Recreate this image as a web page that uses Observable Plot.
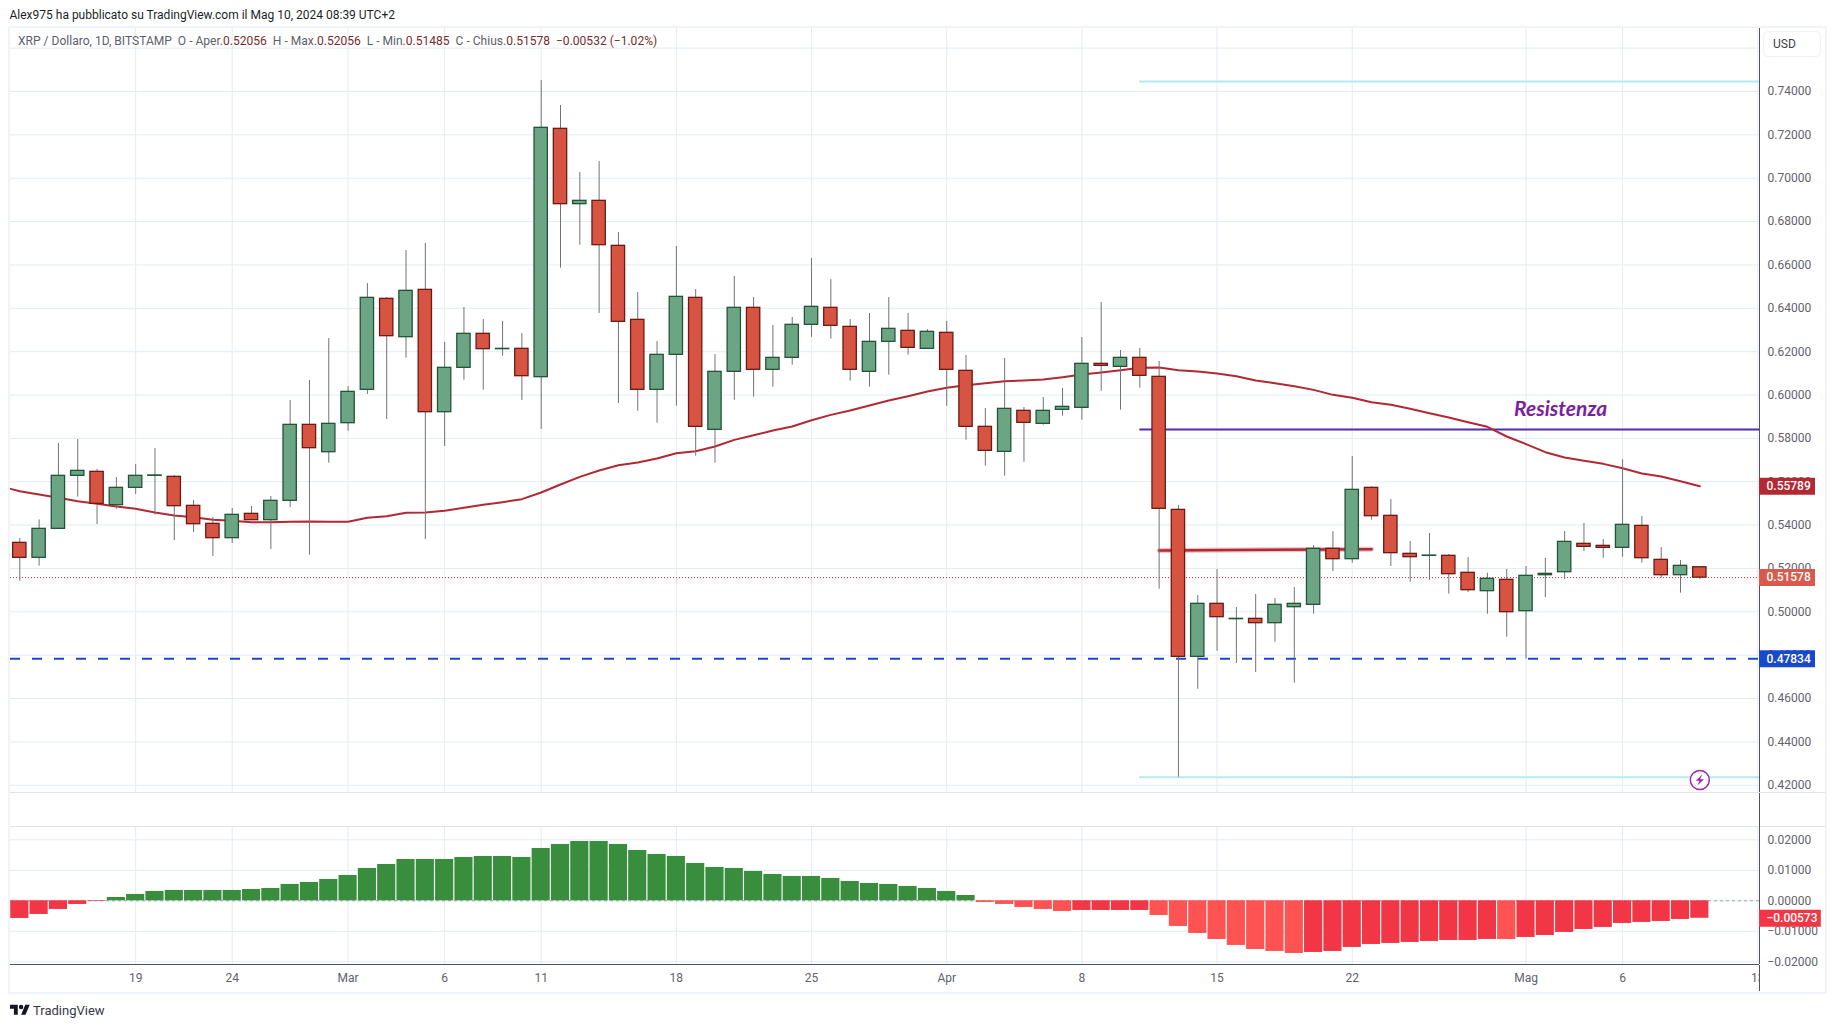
<!DOCTYPE html>
<html lang="it">
<head>
<meta charset="utf-8">
<title>XRP / Dollaro</title>
<script src="https://cdn.jsdelivr.net/npm/d3@7"></script>
<script src="https://cdn.jsdelivr.net/npm/@observablehq/plot@0.6"></script>
<style>
  html,body{margin:0;padding:0;background:#fff;overflow:hidden}
  #page{position:relative;width:1835px;height:1027px;font-family:Roboto,"Liberation Sans",sans-serif}
  #title{height:27px;box-sizing:border-box;padding:8px 0 0 9.5px;font-size:12px;line-height:14px;color:#1c1f29;white-space:nowrap}
  #frame{position:absolute;left:8px;top:26px;width:1815px;height:964px;border:2px solid #f0f3fa;pointer-events:none}
  #legend{position:absolute;left:18px;top:34px;font-size:12.05px;line-height:15px;color:#5d606b;white-space:pre;background:transparent}
  #legend b{font-weight:400;color:#7a2c2c}
  #usd{position:absolute;left:1763px;top:31px;width:58px;height:26px;box-sizing:border-box;border:1px solid #f0f3fa;border-radius:5px;font-size:12px;line-height:24px;padding-left:9px;color:#3c3f4a;background:#fff}
  #caption{position:absolute;left:10px;top:1002px;display:flex;align-items:center;font-size:13px;color:#363a45;height:16px}
  #caption svg{width:20px;height:15.6px;margin-right:3px;display:block}
  svg.plot, figure svg{display:block}
</style>
</head>
<body>
<div id="page">
  <div id="title">Alex975 ha pubblicato su TradingView.com il Mag 10, 2024 08:39 UTC+2</div>
  <div id="charts"></div>
  <div id="frame"></div>
  <div id="legend">XRP / Dollaro, 1D, BITSTAMP  O - Aper.<b>0.52056</b>  H - Max.<b>0.52056</b>  L - Min.<b>0.51485</b>  C - Chius.<b>0.51578</b>  <b>−0.00532 (−1.02%)</b></div>
  <div id="usd">USD</div>
  <div id="caption"><svg viewBox="0 3 36 20"><path fill="#131722" d="M14 22H7V11H0V4h14v18zM28 22h-8l7.5-18h8L28 22z"/><circle fill="#131722" cx="20" cy="8" r="4"/></svg>TradingView</div>
</div>
<script>
// ---------- data (daily, from 13 Feb 2024) ----------
const opens = [.53181,.52489,.53827,.56272,.56456,.54919,.55718,.56272,.56226,.54888,.54058,.53397,.54519,.54227,.55119,.58624,.57363,.58701,.60239,.64436,.62668,.64851,.59208,.61254,.62822,.62115,.62130,.60823,.72278,.68803,.68957,.66881,.63467,.60238,.61853,.64482,.58393,.61069,.64021,.61161,.61714,.63237,.64021,.63144,.61069,.62452,.62960,.62130,.62868,.61115,.58532,.57379,.59270,.58670,.59316,.59408,.61438,.61299,.61714,.60838,.54703,.47923,.50368,.49660,.49676,.49476,.50214,.50322,.52905,.52428,.55718,.54427,.52674,.52580,.52582,.51798,.50952,.51475,.50029,.51690,.51828,.53135,.53043,.52951,.53965,.52397,.51690,.52056];
const highs = [.53381,.54242,.57763,.57948,.56564,.56195,.56794,.57532,.56287,.55134,.54350,.54765,.54857,.55318,.59746,.60669,.62607,.60392,.65144,.64498,.66666,.66989,.62422,.64037,.63483,.63391,.62837,.74507,.73354,.70264,.70771,.67496,.64728,.62468,.66850,.64866,.61868,.65466,.64497,.63206,.63575,.66296,.65328,.63483,.63759,.64497,.63759,.63021,.63390,.61822,.59377,.61684,.59424,.59885,.60300,.62652,.64267,.62053,.62145,.61545,.54903,.50752,.51951,.50199,.50798,.50614,.51121,.53058,.53704,.57163,.55764,.55180,.53243,.53612,.52643,.52505,.51782,.51951,.52090,.52459,.53704,.54073,.53335,.57010,.54396,.52966,.52367,.52056];
const lows = [.51413,.52105,.53827,.55288,.54027,.54734,.55411,.54457,.53289,.53658,.52551,.53151,.54227,.52874,.54811,.52612,.56856,.58332,.60024,.58870,.61700,.53335,.57625,.60685,.60224,.61792,.59746,.58409,.65851,.66912,.63760,.59608,.59254,.58701,.59485,.57179,.56856,.59762,.59900,.60361,.61376,.62668,.62576,.60638,.60361,.60915,.61838,.62130,.59485,.57917,.56718,.56256,.56902,.58609,.59024,.58839,.60177,.59301,.60315,.51044,.42373,.46432,.48184,.47616,.47200,.48600,.46708,.49891,.51859,.52243,.54227,.52090,.51367,.51459,.50814,.50890,.49891,.48830,.47815,.50660,.51490,.52782,.52474,.52520,.52243,.51552,.50860,.51485];
const closes = [.52489,.53827,.56272,.56502,.54980,.55718,.56272,.56290,.54873,.54042,.53397,.54473,.54227,.55119,.58624,.57548,.58670,.60146,.64482,.62714,.64805,.59208,.61254,.62822,.62115,.62130,.60869,.72324,.68803,.68957,.66912,.63375,.60238,.61853,.64528,.58532,.61069,.64021,.61161,.61714,.63237,.64067,.63191,.61161,.62452,.63052,.62176,.62914,.61161,.58532,.57425,.59362,.58716,.59270,.59454,.61438,.61346,.61714,.60884,.54750,.47923,.50368,.49753,.49676,.49476,.50322,.50368,.52905,.52428,.55626,.54411,.52705,.52520,.52595,.51736,.50998,.51521,.49983,.51659,.51751,.53227,.52997,.52951,.54012,.52474,.51690,.52121,.51578];
const smaValues = [.55565,.55411,.55257,.55103,.54980,.54857,.54750,.54581,.54442,.54365,.54242,.54196,.54135,.54135,.54150,.54165,.54150,.54150,.54335,.54411,.54565,.54581,.54657,.54796,.54934,.55057,.55196,.55503,.55872,.56226,.56518,.56764,.56887,.57071,.57317,.57409,.57625,.57932,.58147,.58363,.58547,.58839,.59085,.59285,.59516,.59746,.59946,.60162,.60331,.60454,.60546,.60638,.60669,.60715,.60823,.60946,.61038,.61146,.61253,.61269,.61146,.61084,.60992,.60869,.60669,.60546,.60408,.60238,.60008,.59870,.59670,.59547,.59362,.59162,.58962,.58747,.58532,.58086,.57732,.57363,.57117,.56964,.56825,.56625,.56379,.56241,.56026,.55789];
const histValues = [-.00579,-.00448,-.00284,-.00120,-.00022,.00109,.00208,.00306,.00339,.00339,.00339,.00339,.00372,.00404,.00536,.00601,.00699,.00831,.01060,.01191,.01355,.01355,.01355,.01421,.01454,.01454,.01421,.01716,.01847,.01945,.01945,.01847,.01650,.01519,.01454,.01224,.01093,.01060,.00962,.00863,.00798,.00798,.00732,.00634,.00568,.00536,.00470,.00404,.00306,.00175,-.00055,-.00120,-.00219,-.00284,-.00350,-.00317,-.00317,-.00317,-.00317,-.00481,-.00842,-.01071,-.01268,-.01464,-.01596,-.01661,-.01727,-.01694,-.01661,-.01530,-.01432,-.01399,-.01366,-.01333,-.01301,-.01301,-.01268,-.01270,-.01202,-.01137,-.01038,-.00940,-.00874,-.00743,-.00710,-.00678,-.00612,-.00573];

const tickDates = ["2024-02-19","2024-02-24","2024-03-01","2024-03-06","2024-03-11","2024-03-18","2024-03-25","2024-04-01","2024-04-08","2024-04-15","2024-04-22","2024-05-01","2024-05-06","2024-05-13"];
const tickLabels = ["19","24","Mar","6","11","18","25","Apr","8","15","22","Mag","6","13"];
const priceGrid = [.42,.44,.46,.48,.50,.52,.54,.56,.58,.60,.62,.64,.66,.68,.70,.72,.74,.76];
const priceLabels = [.42,.44,.46,.48,.50,.52,.54,.56,.58,.60,.62,.64,.66,.68,.70,.72,.74];
const histTicks = [.02,.01,0,-.01,-.02];

const resistanceLevel = .58409, highLevel = .74461, lowLevel = .42373, supportLevel = .47834, lastClose = .51578, lastSma = .55789, lastHist = -.00573;
const levelStart = "2024-04-11";
const trendDates = ["2024-04-12","2024-04-23"], trendValues = [.52828,.52890];
const smaLead = {date: new Date(Date.UTC(2024,1,12,12,26)), value: .55672};
const noteDate = "2024-05-02T19:00Z", notePrice = .59332, noteText = "Resistenza";
const boltDate = "2024-05-10", boltPrice = .42243;

// ---------- tables ----------
const DAY = 864e5, day0 = Date.UTC(2024,1,13);
const dateAt = i => new Date(day0 + i*DAY);
const shift = (d, days) => new Date(+d + days*DAY);
const candles = opens.map((o,i) => ({date:dateAt(i), open:o, high:highs[i], low:lows[i], close:closes[i]}));
const sma = [smaLead].concat(smaValues.map((v,i)=>({date:dateAt(i), value:v})));
const hist = histValues.map((v,i)=>({date:dateAt(i), value:v, kind: v>=0 ? "up" : (i>0 && v<histValues[i-1] ? "falling" : "rising")}));
const ticks = tickDates.map((d,i)=>({date:new Date(d), label:tickLabels[i]}));
const trend = trendDates.map((d,i)=>({date:new Date(d), value:trendValues[i]}));

// ---------- shared layout ----------
const xStart = new Date(Date.UTC(2024,1,12,12,26)), xEnd = new Date(Date.UTC(2024,4,13,2,10));
const xFrame = new Date(Date.UTC(2024,4,16,12,15)), xBox = new Date(Date.UTC(2024,4,15,23,45)), xBoxNeg = new Date(Date.UTC(2024,4,16,7,0));
const fmt = v => (v<0?"\u2212":"") + Math.abs(v).toFixed(5);
const FONT = 'Roboto, "Liberation Sans", sans-serif';
const base = {width:1835, marginLeft:10, marginRight:76, marginTop:0,
  x:{type:"utc", domain:[xStart,xEnd], axis:null},
  style:{background:"transparent", fontFamily:FONT, fontSize:"12px", color:"#5f626d", overflow:"visible"}};
const GRID = "#e3ecf3", SEP = "#e0e3eb", AXIS = "#50535e";
const HALF = 0.345;
const boltSymbol = {draw(c, size){
  const s = Math.sqrt(size/Math.PI);
  c.moveTo(.45*s,-s); c.lineTo(-.75*s,.15*s); c.lineTo(-.05*s,.15*s);
  c.lineTo(-.45*s,s); c.lineTo(.75*s,-.15*s); c.lineTo(.05*s,-.15*s); c.closePath();
}};

const boxes = (rows) => rows.flatMap(r => [
  Plot.ruleY([r.value],{x1:xEnd, x2:r.value<0?xBoxNeg:xBox, stroke:r.color, strokeWidth:17}),
  Plot.text([r.value],{x:xEnd, y:d=>d, text:fmt, dx:7, textAnchor:"start", fill:"#fff", fontWeight:500, fontSize:12})
]);

const priceChart = Plot.plot({...base, height:766, marginBottom:1,
  y:{domain:[.41666,.76952], axis:null},
  marks:[
    Plot.ruleY(priceGrid,{stroke:GRID}),
    Plot.ruleX(ticks,{x:"date", stroke:GRID}),
    Plot.ruleY([.41666],{x1:xStart, x2:xFrame, stroke:SEP}),
    Plot.ruleY([highLevel,lowLevel],{x1:new Date(levelStart), x2:xEnd, stroke:"#b2ebf2", strokeWidth:2}),
    Plot.ruleY([resistanceLevel],{x1:new Date(levelStart), x2:xEnd, stroke:"#512da8", strokeWidth:2}),
    Plot.ruleY([supportLevel],{x1:xStart, x2:xEnd, stroke:"#1848cc", strokeWidth:2, strokeDasharray:"10 12"}),
    Plot.ruleY([lastClose],{x1:xStart, x2:xEnd, stroke:"#d32f2f", strokeWidth:1, strokeDasharray:"1 2"}),
    Plot.line(trend,{x:"date", y:"value", stroke:"#b22833", strokeWidth:5, strokeOpacity:.28}),
    Plot.line(trend,{x:"date", y:"value", stroke:"#b22833", strokeWidth:2.5}),
    Plot.line(sma,{x:"date", y:"value", stroke:"#b22833", strokeWidth:2, curve:"linear", clip:true}),
    Plot.ruleX(candles,{x:"date", y1:"low", y2:"high", stroke:"#737375", strokeWidth:1}),
    Plot.rect(candles.filter(d=>d.close>=d.open),{x1:d=>shift(d.date,-HALF), x2:d=>shift(d.date,HALF), y1:"open", y2:"close", fill:"#6ba583", stroke:"#225437", strokeWidth:1.3}),
    Plot.rect(candles.filter(d=>d.close<d.open),{x1:d=>shift(d.date,-HALF), x2:d=>shift(d.date,HALF), y1:"open", y2:"close", fill:"#d75442", stroke:"#6b1a14", strokeWidth:1.3}),
    Plot.text([noteText],{x:new Date(noteDate), y:notePrice, text:d=>d, fill:"#7b1fa2", fontSize:21, fontWeight:700, fontStyle:"italic", fontFamily:"Lato, Roboto, sans-serif"}),
    Plot.dot([boltPrice],{x:new Date(boltDate), y:d=>d, r:9.5, fill:"#fff", stroke:"#9c27b0", strokeWidth:1.5}),
    Plot.dot([boltPrice],{x:new Date(boltDate), y:d=>d, r:5.5, symbol:boltSymbol, fill:"#9c27b0", stroke:"none"}),
    Plot.ruleX([xEnd],{stroke:AXIS}),
    Plot.axisY(priceLabels,{anchor:"right", tickSize:0, tickPadding:8, tickFormat:fmt, label:null}),
    ...boxes([{value:lastSma,color:"#b22833"},{value:lastClose,color:"#d9594c"},{value:supportLevel,color:"#1848cc"}])
  ]
});

const histChart = Plot.plot({...base, height:172, marginBottom:1,
  y:{domain:[-.02089,.03518], axis:null},
  marks:[
    Plot.ruleY(histTicks,{stroke:GRID}),
    Plot.ruleX(ticks,{x:"date", y1:-.02089, y2:.02436, stroke:GRID}),
    Plot.ruleY([.02436],{x1:xStart, x2:xFrame, stroke:SEP}),
    Plot.ruleY([0],{x1:xStart, x2:xEnd, stroke:"#9aa8b4", strokeDasharray:"3 3"}),
    Plot.rect(hist.filter(d=>d.kind==="up"),{x1:d=>shift(d.date,-.47), x2:d=>shift(d.date,.47), y1:0, y2:"value", fill:"#388e3c"}),
    Plot.rect(hist.filter(d=>d.kind==="falling"),{x1:d=>shift(d.date,-.47), x2:d=>shift(d.date,.47), y1:0, y2:"value", fill:"#ff5252"}),
    Plot.rect(hist.filter(d=>d.kind==="rising"),{x1:d=>shift(d.date,-.47), x2:d=>shift(d.date,.47), y1:0, y2:"value", fill:"#f23645"}),
    Plot.ruleY([-.02089],{x1:xStart, x2:xEnd, stroke:AXIS}),
    Plot.ruleX([xEnd],{stroke:AXIS}),
    Plot.axisY(histTicks,{anchor:"right", tickSize:0, tickPadding:8, tickFormat:fmt, label:null}),
    ...boxes([{value:lastHist,color:"#f23645"}])
  ]
});

const timeAxis = Plot.plot({...base, height:26, marginBottom:0,
  marks:[
    Plot.text(ticks,{x:"date", text:"label", frameAnchor:"middle", clip:true, fontSize:12}),
    Plot.ruleX([xEnd],{stroke:AXIS})
  ]
});

const host = document.getElementById("charts");
host.append(priceChart, histChart, timeAxis);
</script>
</body>
</html>
